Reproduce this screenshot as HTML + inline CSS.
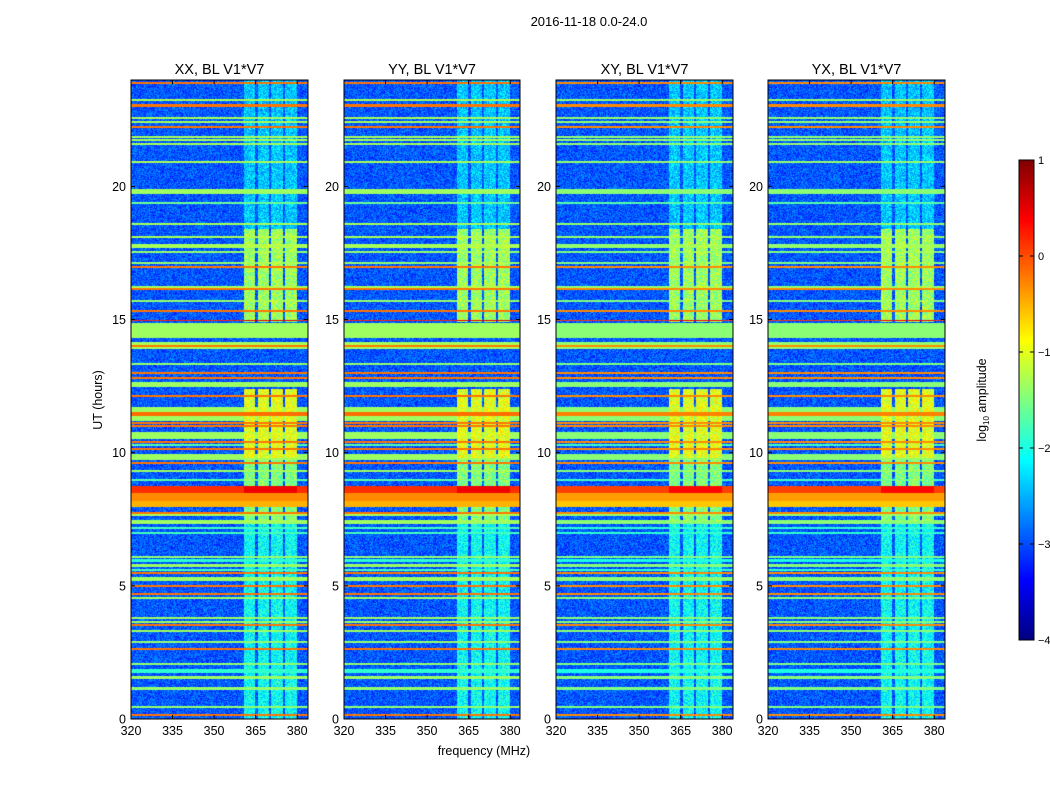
<!DOCTYPE html>
<html><head><meta charset="utf-8"><style>
body{margin:0;background:#fff;width:1050px;height:800px;overflow:hidden;font-family:"Liberation Sans",sans-serif}
#wrap{position:relative;width:1050px;height:800px}
canvas{position:absolute}
svg{position:absolute;left:0;top:0}
</style></head><body>
<div id="wrap">
<canvas id="c0" width="177" height="639" style="left:131px;top:80px"></canvas>
<canvas id="c1" width="176" height="639" style="left:344px;top:80px"></canvas>
<canvas id="c2" width="177" height="639" style="left:556px;top:80px"></canvas>
<canvas id="c3" width="177" height="639" style="left:768px;top:80px"></canvas>
<canvas id="cb" width="15" height="480" style="left:1019px;top:160px"></canvas>
<svg id="ov" width="1050" height="800"></svg>
</div>
<script>
// ---- data ----
const panelTitles = ["XX, BL V1*V7","YY, BL V1*V7","XY, BL V1*V7","YX, BL V1*V7"];
const xTicks = [320,335,350,365,380];
const yTicks = [0,5,10,15,20];
const cbTicks = [1,0,-1,-2,-3,-4];
const backgroundLevel = -2.95;
// horizontal RFI bands: start hour, end hour, log10 amplitude
const bandStart = [23.85,23.2,23.0,22.53,22.38,22.19,21.82,21.7,21.56,20.86,19.72,19.33,18.56,18.06,17.7,17.49,17.08,16.93,16.18,16.11,15.66,15.28,14.94,14.32,14.06,13.96,13.89,13.29,12.95,12.76,12.48,12.09,11.53,11.38,11.2,11.06,10.96,10.5,10.36,10.24,10.1,9.74,9.56,9.26,8.93,8.5,8.2,7.95,7.69,7.62,7.34,7.14,6.95,6.04,5.88,5.7,5.56,5.44,5.2,4.96,4.65,4.5,3.75,3.6,3.49,3.26,2.85,2.59,2.02,1.72,1.52,1.08,0.41,0.11];
const bandEnd   = [23.92,23.28,23.08,22.61,22.46,22.27,21.9,21.78,21.64,20.94,19.9,19.41,18.64,18.14,17.82,17.57,17.16,17.01,16.26,16.19,15.74,15.36,15.0,14.87,14.14,14.04,13.97,13.37,13.03,12.84,12.66,12.17,11.72,11.53,11.38,11.14,11.04,10.78,10.44,10.32,10.18,9.95,9.64,9.34,9.01,8.75,8.5,8.18,7.77,7.7,7.47,7.22,7.03,6.12,6.0,5.82,5.64,5.52,5.33,5.04,4.73,4.58,3.83,3.68,3.57,3.34,2.93,2.67,2.1,1.88,1.62,1.2,0.49,0.19];
const bandLevel = [-0.2,-1.3,-0.2,-1.3,-1.3,-0.2,-1.3,-1.3,-1.3,-1.3,-1.35,-1.6,-1.3,-1.3,-1.3,-1.4,-1.4,-0.2,-1.3,-0.2,-1.4,-0.2,0.2,-1.35,-1.3,-0.2,-1.3,-1.4,-0.2,-0.2,-1.35,-0.2,-1.35,-0.15,-1.35,-0.2,-0.2,-1.35,-0.2,-1.7,-0.2,-1.35,-0.2,-1.35,-1.7,0.15,-0.3,-0.5,-0.2,-1.3,-1.35,-1.8,-1.8,-1.4,-1.9,-1.35,-1.8,-0.2,-1.35,-0.2,-0.2,-1.35,-1.35,-1.35,-0.2,-1.35,-1.4,-0.2,-1.4,-1.9,-1.35,-1.4,-1.4,-0.2];
// frequency sub-bands with broadband activity (MHz)
const colStart = [360.8,365.8,370.5,375.6];
const colEnd   = [364.8,369.8,374.8,379.9];
// activity level in those columns vs time
const actStart = [0,7.4,9.8,14.9,18.4];
const actEnd   = [7.4,9.8,12.4,18.4,24];
const actLevel = [-2.1,-1.5,-1.0,-1.35,-2.4];
// per-panel level offsets for the bands (cross pols slightly weaker)
const panelOffset = [0,0,-0.1,-0.1];

// ---- scales ----
const W=[177,176,177,177], H=639;
const fx=(f)=> (f-320)*2.77;
const ty=t=> H-(t)*26.63;
const pxToF=x=>320+x/2.77;
const pxToT=y=>(H-y)/26.63;

function jet(v){ let x=(v+4)/5; x=Math.max(0,Math.min(1,x));
  const c=a=>Math.round(255*Math.max(0,Math.min(1,a)));
  return [c(1.5-Math.abs(4*x-3)),c(1.5-Math.abs(4*x-2)),c(1.5-Math.abs(4*x-1))]; }
function hash(i,j){ let h=(i*374761393+j*668265263)|0; h=(h^(h>>>13))*1274126177|0; return ((h^(h>>>16))>>>0)/4294967296; }

const panelLefts=[131,344,556,768];
panelTitles.forEach((ttl,p)=>{
  const cv=document.getElementById('c'+p), ctx=cv.getContext('2d');
  const w=W[p]; const img=ctx.createImageData(w,H);
  for(let y=0;y<H;y++){
    const t=pxToT(y+0.5);
    let band=-9;
    for(let k=0;k<bandStart.length;k++){ if(t>=bandStart[k]&&t<bandEnd[k]) band=Math.max(band,bandLevel[k]+panelOffset[p]); }
    let act=-9;
    for(let k=0;k<actStart.length;k++){ if(t>=actStart[k]&&t<actEnd[k]) act=actLevel[k]; }
    for(let x=0;x<w;x++){
      const f=pxToF(x+0.5);
      let v=backgroundLevel+(hash(x+p*1000,y)-0.5)*0.7;
      for(let k=0;k<colStart.length;k++){ if(f>=colStart[k]&&f<colEnd[k]) v=Math.max(v,act+(hash(y,x+p*77)-0.5)*0.8); }
      if(band>-9){ v=Math.max(v,band); if(f>=colStart[0]&&f<colEnd[3]&&band>0) v=band+0.3; }
      const c=jet(v), i=(y*w+x)*4; img.data[i]=c[0];img.data[i+1]=c[1];img.data[i+2]=c[2];img.data[i+3]=255;
    }
  }
  ctx.putImageData(img,0,0);
});
(function(){const cv=document.getElementById('cb'),ctx=cv.getContext('2d');
 for(let y=0;y<480;y++){const v=1-5*(y+0.5)/480;const c=jet(v);ctx.fillStyle=`rgb(${c})`;ctx.fillRect(0,y,15,1);} })();

const svg=document.getElementById('ov'), NS='http://www.w3.org/2000/svg';
function mk(tag,attrs,name,txt){const e=document.createElementNS(NS,tag);for(const k in attrs)e.setAttribute(k,attrs[k]);
 
 
 if(txt!==undefined)e.textContent=txt; svg.appendChild(e); return e;}
const minus=s=>String(s).replace('-','\u2212');
panelTitles.forEach((ttl,p)=>{
  const L=panelLefts[p], T=80, w=W[p];
  mk('rect',{x:L,y:T,width:w,height:H,fill:'none',stroke:'#000','stroke-width':1},'panel-frame');
  mk('text',{x:L+w/2,y:74,'text-anchor':'middle','font-size':14.5,fill:'#000'},'panel-title',ttl);
  xTicks.forEach(v=>{const x=L+fx(v);
    mk('line',{x1:x,y1:T+H,x2:x,y2:T+H-4,stroke:'#000'},'x-tick');
    mk('line',{x1:x,y1:T,x2:x,y2:T+4,stroke:'#000'},'x-tick-top');
    mk('text',{x:x,y:T+H+16,'text-anchor':'middle','font-size':12.5},'x-tick-label',v);});
  yTicks.forEach(v=>{const y=T+ty(v);
    mk('line',{x1:L,y1:y,x2:L+4,y2:y,stroke:'#000'},'y-tick');
    mk('line',{x1:L+w,y1:y,x2:L+w-4,y2:y,stroke:'#000'},'y-tick-right');
    mk('text',{x:L-5,y:y+4.5,'text-anchor':'end','font-size':12.5},'y-tick-label',v);});
});
mk('text',{x:589,y:26,'text-anchor':'middle','font-size':13},'figure-title','2016-11-18 0.0-24.0');
mk('text',{x:484,y:755,'text-anchor':'middle','font-size':12.5},'x-axis-title','frequency (MHz)');
mk('text',{x:0,y:0,'text-anchor':'middle','font-size':12.5,transform:'translate(102,400) rotate(-90)'},'y-axis-title','UT (hours)');
mk('rect',{x:1019,y:160,width:15,height:480,fill:'none',stroke:'#000'},'colorbar-frame');
cbTicks.forEach(v=>{const y=160+(1-v)/5*480;
  mk('line',{x1:1019,y1:y,x2:1023,y2:y,stroke:'#000'},'colorbar-tick');
  mk('line',{x1:1034,y1:y,x2:1030,y2:y,stroke:'#000'},'colorbar-tick-right');
  mk('text',{x:1038,y:y+4,'font-size':11},'colorbar-tick-label',minus(v));});
const lab=mk('text',{x:0,y:0,'text-anchor':'middle','font-size':12.5,transform:'translate(986,400) rotate(-90)'},'colorbar-label');
lab.innerHTML='log<tspan font-size="8" dy="3">10</tspan><tspan dy="-3"> amplitude</tspan>';
</script>
</body></html>
